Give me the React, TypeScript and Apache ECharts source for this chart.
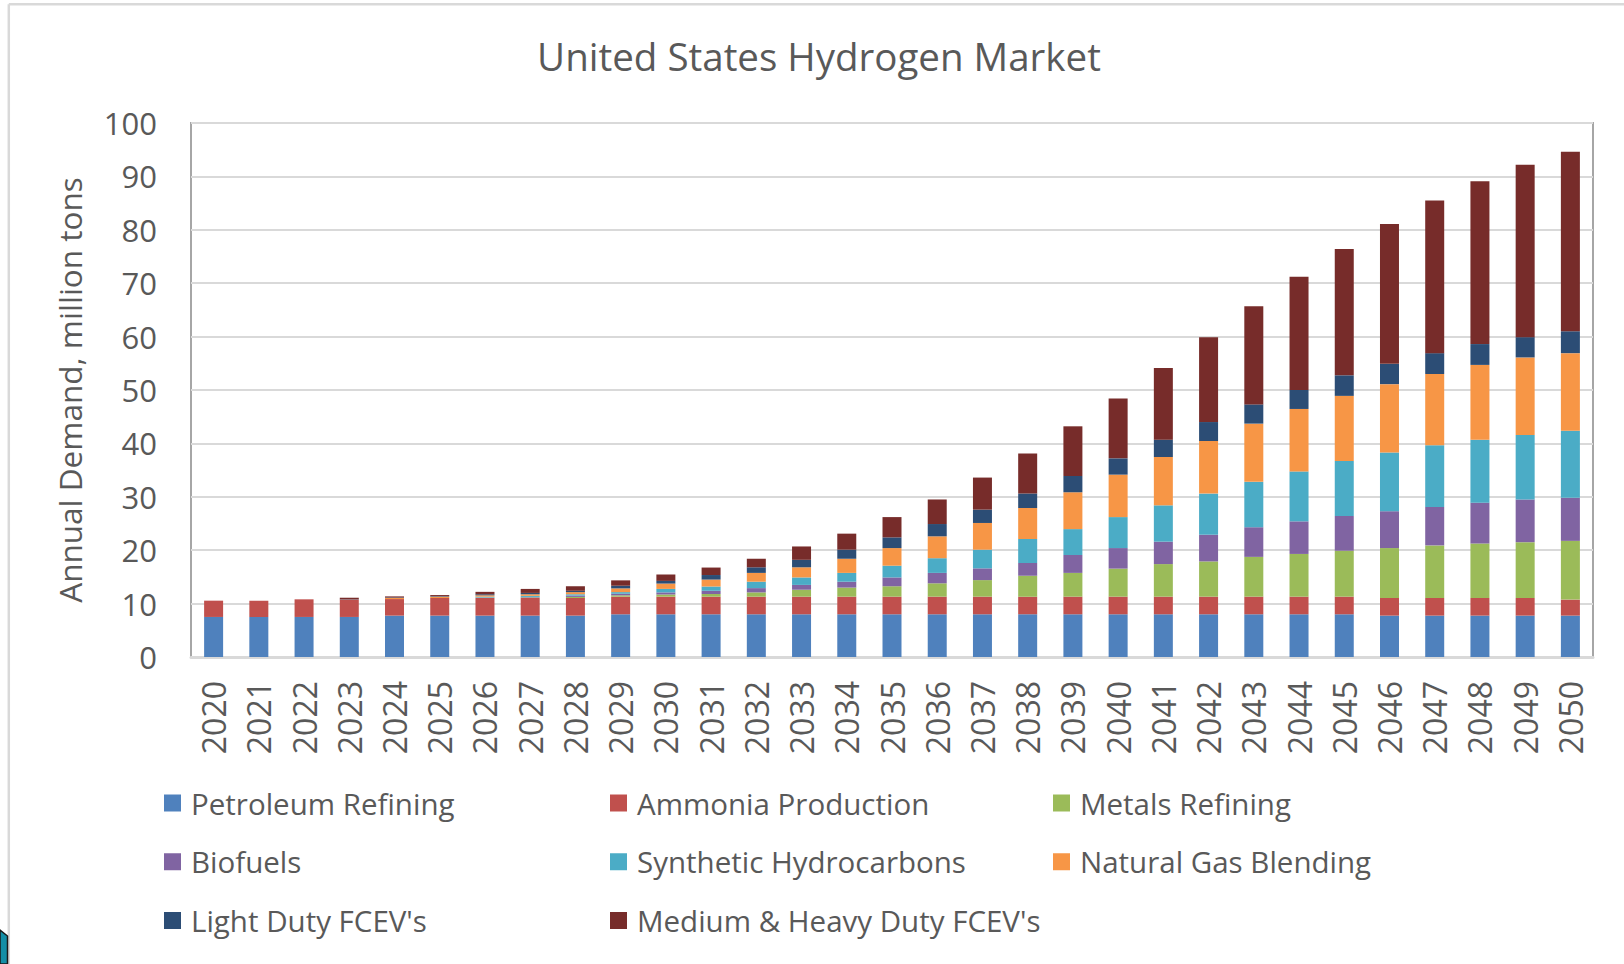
import React, { useEffect, useRef } from "react";
import * as echarts from "echarts";

const years = [
  "2020", "2021", "2022", "2023", "2024", "2025", "2026", "2027", "2028", "2029",
  "2030", "2031", "2032", "2033", "2034", "2035", "2036", "2037", "2038", "2039",
  "2040", "2041", "2042", "2043", "2044", "2045", "2046", "2047", "2048", "2049", "2050",
];

const petroleumRefining = [7.5, 7.5, 7.5, 7.5, 7.75, 7.75, 7.75, 7.75, 7.75, 8, 8, 8, 8, 8, 8, 8, 8, 8, 8, 8, 8, 8, 8, 8, 8, 8, 7.75, 7.75, 7.75, 7.75, 7.75];
const ammoniaProduction = [3.05, 3.05, 3.3, 3.25, 3.1, 3.3, 3.3, 3.3, 3.3, 3.3, 3.3, 3.3, 3.3, 3.3, 3.3, 3.3, 3.3, 3.3, 3.3, 3.3, 3.3, 3.3, 3.3, 3.3, 3.3, 3.3, 3.3, 3.3, 3.3, 3.3, 3.0];
const metalsRefining = [0, 0, 0, 0, 0, 0, 0.05, 0.1, 0.2, 0.25, 0.4, 0.5, 0.8, 1.3, 1.7, 1.95, 2.5, 3.1, 3.9, 4.45, 5.25, 6.1, 6.6, 7.45, 8.0, 8.6, 9.35, 9.85, 10.2, 10.45, 11.0];
const biofuels = [0, 0, 0, 0, 0, 0, 0.05, 0.1, 0.25, 0.3, 0.4, 0.6, 0.8, 0.9, 1.1, 1.65, 1.95, 2.2, 2.4, 3.35, 3.85, 4.2, 5.0, 5.55, 6.1, 6.5, 6.9, 7.2, 7.65, 8.0, 8.05];
const syntheticHydrocarbons = [0, 0, 0, 0, 0, 0, 0.15, 0.2, 0.25, 0.3, 0.65, 0.8, 1.2, 1.4, 1.65, 2.2, 2.75, 3.5, 4.5, 4.85, 5.8, 6.8, 7.7, 8.5, 9.35, 10.3, 11.0, 11.55, 11.8, 12.05, 12.55];
const naturalGasBlending = [0, 0, 0, 0, 0.2, 0.25, 0.25, 0.3, 0.4, 0.7, 1.0, 1.3, 1.65, 1.9, 2.65, 3.3, 4.1, 5.0, 5.8, 6.9, 7.95, 9.05, 9.85, 10.9, 11.7, 12.2, 12.8, 13.35, 14.0, 14.55, 14.55];
const lightDutyFCEV = [0, 0, 0, 0.05, 0.1, 0.1, 0.2, 0.25, 0.25, 0.5, 0.5, 0.85, 1.05, 1.4, 1.7, 2.0, 2.3, 2.5, 2.7, 3.05, 3.05, 3.25, 3.55, 3.6, 3.55, 3.85, 3.8, 3.9, 3.9, 3.8, 4.1];
const mediumHeavyFCEV = [0, 0, 0, 0.3, 0.2, 0.2, 0.45, 0.75, 0.85, 1.0, 1.2, 1.4, 1.6, 2.5, 3.0, 3.8, 4.6, 6.0, 7.5, 9.3, 11.2, 13.4, 15.9, 18.4, 21.2, 23.65, 26.2, 28.6, 30.5, 32.3, 33.6];

const seriesNames = [
  "Petroleum Refining",
  "Ammonia Production",
  "Metals Refining",
  "Biofuels",
  "Synthetic Hydrocarbons",
  "Natural Gas Blending",
  "Light Duty FCEV's",
  "Medium & Heavy Duty FCEV's",
];
const seriesValues = [
  petroleumRefining,
  ammoniaProduction,
  metalsRefining,
  biofuels,
  syntheticHydrocarbons,
  naturalGasBlending,
  lightDutyFCEV,
  mediumHeavyFCEV,
];
const seriesColors = ["#4F81BD", "#C0504D", "#9BBB59", "#8064A2", "#4BACC6", "#F79646", "#2C4D75", "#772C2A"];

const titleText = "United States Hydrogen Market";
const yAxisTitle = "Annual Demand, million tons";

const FONT = "'Open Sans', sans-serif";
const TEXT = "#595959";

export default function App() {
  const ref = useRef<HTMLDivElement>(null);

  useEffect(() => {
    if (!ref.current) return;
    const chart = echarts.init(ref.current, null, { renderer: "svg" });

    const legendCol = (names: string[], left: number) => ({
      show: true,
      orient: "vertical",
      left,
      top: 788,
      padding: 0,
      itemWidth: 17,
      itemHeight: 17,
      itemGap: 28.75,
      icon: "rect",
      data: names,
      selectedMode: false,
      textStyle: {
        fontFamily: FONT,
        fontSize: 29.5,
        color: TEXT,
        lineHeight: 30,
        padding: [0, 0, 0, 5],
      },
    });

    chart.setOption({
      animation: false,
      backgroundColor: "#ffffff",
      title: {
        text: titleText,
        left: 814,
        top: 31,
        textAlign: "center",
        textStyle: { fontFamily: FONT, fontSize: 38.5, fontWeight: "normal", color: TEXT },
      },
      legend: [
        legendCol([seriesNames[0], seriesNames[3], seriesNames[6]], 164),
        legendCol([seriesNames[1], seriesNames[4], seriesNames[7]], 610),
        legendCol([seriesNames[2], seriesNames[5]], 1053),
      ],
      grid: {
        left: 191,
        top: 123,
        right: 31,
        bottom: 307,
        show: true,
        borderColor: "#a6a6a6",
        borderWidth: 2,
        containLabel: false,
      },
      xAxis: {
        type: "category",
        data: years,
        axisLine: { show: true, lineStyle: { color: "#d9d9d9", width: 3 } },
        axisTick: { show: false },
        axisLabel: {
          rotate: 90,
          margin: 24,
          fontFamily: FONT,
          fontSize: 32,
          color: TEXT,
          interval: 0,
        },
      },
      yAxis: {
        type: "value",
        min: 0,
        max: 100,
        interval: 10,
        name: yAxisTitle,
        nameLocation: "middle",
        nameGap: 106,
        nameTextStyle: { fontFamily: FONT, fontSize: 31.5, color: TEXT },
        axisLine: { show: false },
        axisTick: { show: false },
        axisLabel: { margin: 34, fontFamily: FONT, fontSize: 31, color: TEXT },
        splitLine: { show: true, lineStyle: { color: "#d9d9d9", width: 2 } },
      },
      series: seriesNames.map((name, i) => ({
        name,
        type: "bar",
        stack: "total",
        data: seriesValues[i],
        barWidth: 19,
        itemStyle: { color: seriesColors[i] },
        emphasis: { disabled: true },
      })),
      graphic: [
        {
          type: "line",
          shape: { x1: 8.8, y1: 4.3, x2: 1624, y2: 4.3 },
          style: { stroke: "#d9d9d9", lineWidth: 2.5 },
          silent: true,
        },
        {
          type: "line",
          shape: { x1: 8.8, y1: 4.3, x2: 8.8, y2: 964 },
          style: { stroke: "#d9d9d9", lineWidth: 2.5 },
          silent: true,
        },
        {
          type: "polygon",
          shape: { points: [[0, 930], [7.5, 936], [7.5, 964], [0, 964]] },
          style: { fill: "#138ea6", stroke: "#1a1a1a", lineWidth: 1.5 },
          silent: true,
        },
      ],
    });

    return () => chart.dispose();
  }, []);

  return (
    <div
      ref={ref}
      style={{ position: "fixed", left: 0, top: 0, width: 1624, height: 964 }}
    />
  );
}
